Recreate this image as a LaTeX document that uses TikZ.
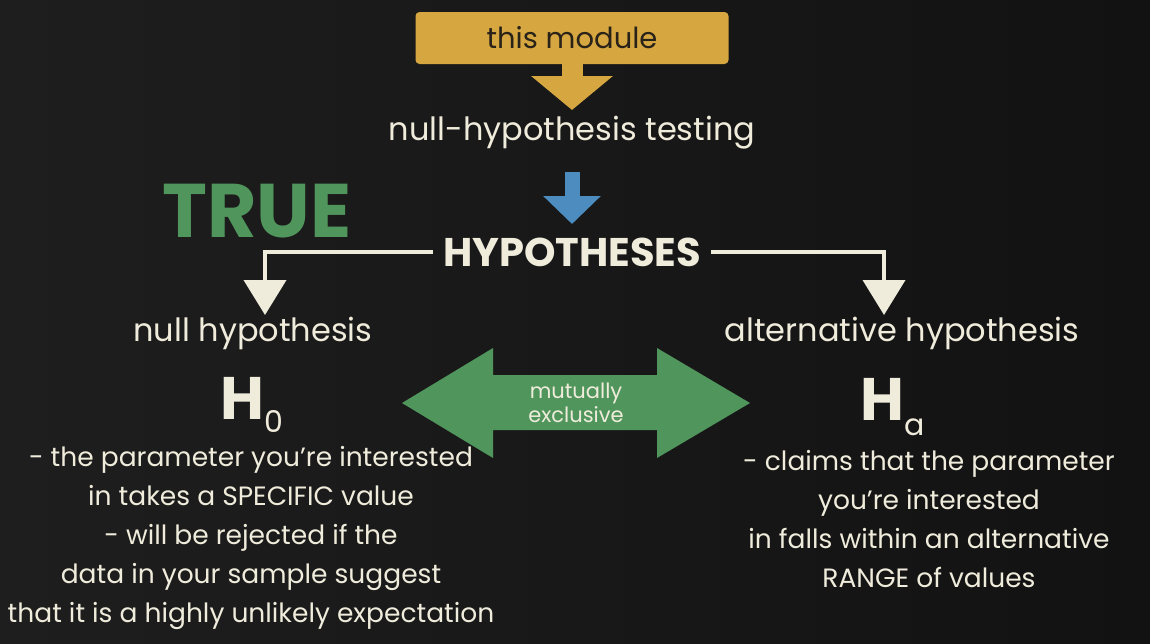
\documentclass[tikz,border=0pt]{standalone}
\usepackage{fontspec}
\setmainfont{Poppins}
\usetikzlibrary{positioning,arrows.meta,calc}

\definecolor{board}{RGB}{30,30,30}
\definecolor{boarddark}{RGB}{18,18,18}
\definecolor{chalkwhite}{RGB}{240,236,220}
\definecolor{modyellow}{RGB}{214,166,64}
\definecolor{darkink}{RGB}{40,34,24}
\definecolor{stepblue}{RGB}{76,140,190}
\definecolor{truegreen}{RGB}{80,150,92}

\begin{document}
\begin{tikzpicture}[x=1pt, y=-1pt]
\tikzset{
    chalk/.style={text=chalkwhite, inner sep=0pt, align=center},
    bodytext/.style={chalk, font=\fontsize{26.5}{39}\selectfont},
    title/.style={chalk, font=\fontsize{32}{36}\selectfont},
    modulebox/.style={rectangle, rounded corners=4pt, fill=modyellow, text=darkink, minimum width=313pt, minimum height=52pt, font=\fontsize{29}{32}\selectfont},
    link/.style={draw=chalkwhite, line width=4pt, -{Triangle[width=42pt,length=35pt]}}
}
% board
\shade[left color=board, right color=boarddark] (0,0) rectangle (1150,643);
\useasboundingbox (0,0) rectangle (1150,643);

\node[modulebox] (module) at (572,38) {this module};
\node[title] (testing) at (572,133) {null-hypothesis testing};
\node[chalk, text=truegreen, font=\bfseries\fontsize{76}{76}\selectfont] (true) at (257,211) {TRUE};
\node[chalk, font=\bfseries\fontsize{40}{42}\selectfont, inner xsep=10pt] (hyp) at (572,252) {HYPOTHESES};
\node[title] (nullh) at (253,333) {null hypothesis};
\node[title] (alth) at (902,333) {alternative hypothesis};

\coordinate (ytip) at (572,110);
\coordinate (btop) at (572,172);
\coordinate (btip) at (572,224);
\coordinate (h0tip) at (265,315);
\coordinate (hatip) at (884,315);

\draw[modyellow, line width=21pt, -{Triangle[width=80pt,length=34pt]}] (module.south) -- (ytip);
\draw[stepblue, line width=15pt, -{Triangle[width=56pt,length=28pt]}] (btop) -- (btip);
\draw[link] (hyp.west) -| (h0tip);
\draw[link] (hyp.east) -| (hatip);

% H0 and Ha
\node[chalk] (h0) at (252,405) {{\bfseries\fontsize{60}{60}\selectfont H}\raisebox{-13pt}{\fontsize{30}{30}\selectfont 0}};
\node[chalk] (ha) at (893,407) {{\bfseries\fontsize{60}{60}\selectfont H}\raisebox{-15pt}{\fontsize{30}{30}\selectfont a}};

% mutually exclusive
\coordinate (mid) at (576,403);
\fill[truegreen, shift={(mid)}] (-174,0) -- (-83,-55) -- (-83,-28) -- (81,-28) -- (81,-55)
    -- (174,0) -- (81,55) -- (81,27) -- (-83,27) -- (-83,55) -- cycle;
\node[chalk, font=\fontsize{21}{24}\selectfont] (mutex) at (mid) {mutually\\exclusive};

\node[bodytext] (h0text) at (251,538) {- the parameter you’re interested\\in takes a SPECIFIC value\\- will be rejected if the\\data in your sample suggest\\that it is a highly unlikely expectation};
\node[bodytext] (hatext) at (929,519) {- claims that the parameter\\you’re interested\\in falls within an alternative\\RANGE of values};
\end{tikzpicture}
\end{document}
